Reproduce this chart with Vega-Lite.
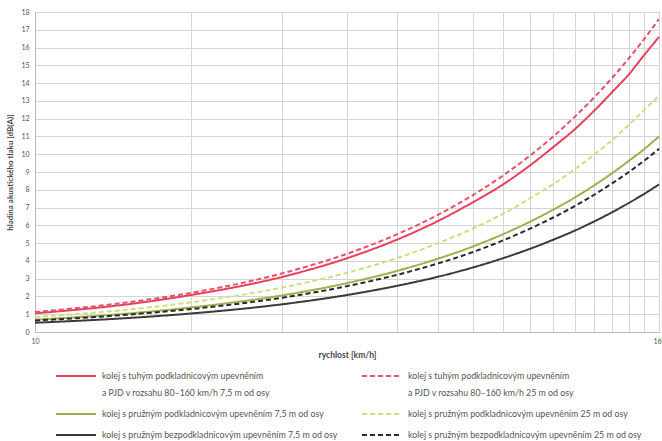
{
  "$schema": "https://vega.github.io/schema/vega-lite/v6.json",
  "width": 624,
  "height": 320,
  "autosize": {"type": "none"},
  "padding": {"left": 35, "top": 12, "right": 3, "bottom": 109},
  "background": "white",
  "config": {
    "view": {"stroke": "#cccccc"},
    "font": "Lato"
  },
  "data": {
    "values": [
      {"v": 10, "s1": 1.05, "s2": 1.12, "s3": 0.69, "s4": 0.84, "s5": 0.52, "s6": 0.645},
      {"v": 15, "s1": 1.55, "s2": 1.66, "s3": 1.03, "s4": 1.25, "s5": 0.78, "s6": 0.97},
      {"v": 20, "s1": 2.08, "s2": 2.2, "s3": 1.38, "s4": 1.67, "s5": 1.04, "s6": 1.29},
      {"v": 30, "s1": 3.1, "s2": 3.3, "s3": 2.06, "s4": 2.5, "s5": 1.56, "s6": 1.93},
      {"v": 40, "s1": 4.15, "s2": 4.4, "s3": 2.75, "s4": 3.33, "s5": 2.08, "s6": 2.58},
      {"v": 50, "s1": 5.2, "s2": 5.5, "s3": 3.44, "s4": 4.16, "s5": 2.6, "s6": 3.22},
      {"v": 60, "s1": 6.25, "s2": 6.6, "s3": 4.13, "s4": 5.0, "s5": 3.11, "s6": 3.86},
      {"v": 70, "s1": 7.3, "s2": 7.7, "s3": 4.81, "s4": 5.82, "s5": 3.63, "s6": 4.5},
      {"v": 80, "s1": 8.3, "s2": 8.8, "s3": 5.5, "s4": 6.65, "s5": 4.15, "s6": 5.15},
      {"v": 90, "s1": 9.35, "s2": 9.9, "s3": 6.19, "s4": 7.5, "s5": 4.67, "s6": 5.8},
      {"v": 100, "s1": 10.4, "s2": 11.0, "s3": 6.88, "s4": 8.32, "s5": 5.19, "s6": 6.44},
      {"v": 110, "s1": 11.4, "s2": 12.1, "s3": 7.56, "s4": 9.15, "s5": 5.7, "s6": 7.08},
      {"v": 120, "s1": 12.45, "s2": 13.2, "s3": 8.25, "s4": 9.98, "s5": 6.22, "s6": 7.72},
      {"v": 130, "s1": 13.5, "s2": 14.3, "s3": 8.94, "s4": 10.8, "s5": 6.74, "s6": 8.37},
      {"v": 140, "s1": 14.5, "s2": 15.4, "s3": 9.63, "s4": 11.65, "s5": 7.26, "s6": 9.0},
      {"v": 150, "s1": 15.6, "s2": 16.5, "s3": 10.3, "s4": 12.5, "s5": 7.78, "s6": 9.65},
      {"v": 160, "s1": 16.6, "s2": 17.6, "s3": 11.0, "s4": 13.3, "s5": 8.3, "s6": 10.3}
    ]
  },
  "transform": [
    {"fold": ["s1", "s2", "s3", "s4", "s5", "s6"], "as": ["series", "y"]}
  ],
  "mark": {"type": "line", "strokeWidth": 2, "interpolate": "monotone"},
  "encoding": {
    "x": {
      "field": "v",
      "type": "quantitative",
      "scale": {"type": "log", "domain": [10, 160], "nice": false},
      "axis": {
        "values": [10, 20, 30, 40, 50, 60, 70, 80, 90, 100, 110, 120, 130, 140, 150, 160],
        "labelExpr": "datum.value == 10 || datum.value == 160 ? datum.label : ''",
        "title": "rychlost [km/h]",
        "titleFontSize": 8.5,
        "titleFontWeight": "bold",
        "titleColor": "#444",
        "titlePadding": 6,
        "labelFontSize": 7,
        "labelColor": "#555",
        "labelPadding": 5,
        "ticks": false,
        "domainColor": "#bbbbbb",
        "gridColor": "#d4d4d4",
        "labelFlush": false
      }
    },
    "y": {
      "field": "y",
      "type": "quantitative",
      "scale": {"domain": [0, 18], "nice": false},
      "axis": {
        "values": [0, 1, 2, 3, 4, 5, 6, 7, 8, 9, 10, 11, 12, 13, 14, 15, 16, 17, 18],
        "title": "hladina akustického tlaku [dB(A)]",
        "titleFontSize": 8,
        "titleFontWeight": "bold",
        "titleColor": "#444",
        "titlePadding": 6,
        "labelFontSize": 7,
        "labelColor": "#555",
        "labelPadding": 6,
        "ticks": false,
        "domainColor": "#bbbbbb",
        "gridColor": "#d4d4d4"
      }
    },
    "color": {
      "field": "series",
      "type": "nominal",
      "scale": {
        "domain": ["s1", "s2", "s3", "s4", "s5", "s6"],
        "range": ["#e8405a", "#e8506a", "#9fb04a", "#cfdf80", "#3a3a3a", "#2a2a2a"]
      },
      "legend": {
        "orient": "none",
        "direction": "horizontal",
        "legendX": 25,
        "legendY": 348,
        "columns": 2,
        "title": null,
        "symbolType": "M-1.333,0H1.333",
        "symbolSize": 900,
        "symbolStrokeWidth": 2,
        "labelFontSize": 8.8,
        "labelColor": "#555",
        "labelLimit": 400,
        "columnPadding": 20,
        "rowPadding": -4,
        "labelOffset": 10,
        "encode": {
          "labels": {"update": {"lineHeight": {"value": 17}}}
        },
        "labelExpr": "datum.label == 's1' ? ['kolej s tuhým podkladnicovým upevněním', 'a PJD v rozsahu 80–160 km/h 7,5 m od osy'] : datum.label == 's2' ? ['kolej s tuhým podkladnicovým upevněním', 'a PJD v rozsahu 80–160 km/h 25 m od osy'] : datum.label == 's3' ? 'kolej s pružným podkladnicovým upevněním 7,5 m od osy' : datum.label == 's4' ? 'kolej s pružným podkladnicovým upevněním 25 m od osy' : datum.label == 's5' ? 'kolej s pružným bezpodkladnicovým upevněním 7,5 m od osy' : 'kolej s pružným bezpodkladnicovým upevněním 25 m od osy'"
      }
    },
    "strokeDash": {
      "field": "series",
      "type": "nominal",
      "scale": {
        "domain": ["s1", "s2", "s3", "s4", "s5", "s6"],
        "range": [[1, 0], [5, 3], [1, 0], [5, 3], [1, 0], [5, 3]]
      },
      "legend": null
    }
  }
}
